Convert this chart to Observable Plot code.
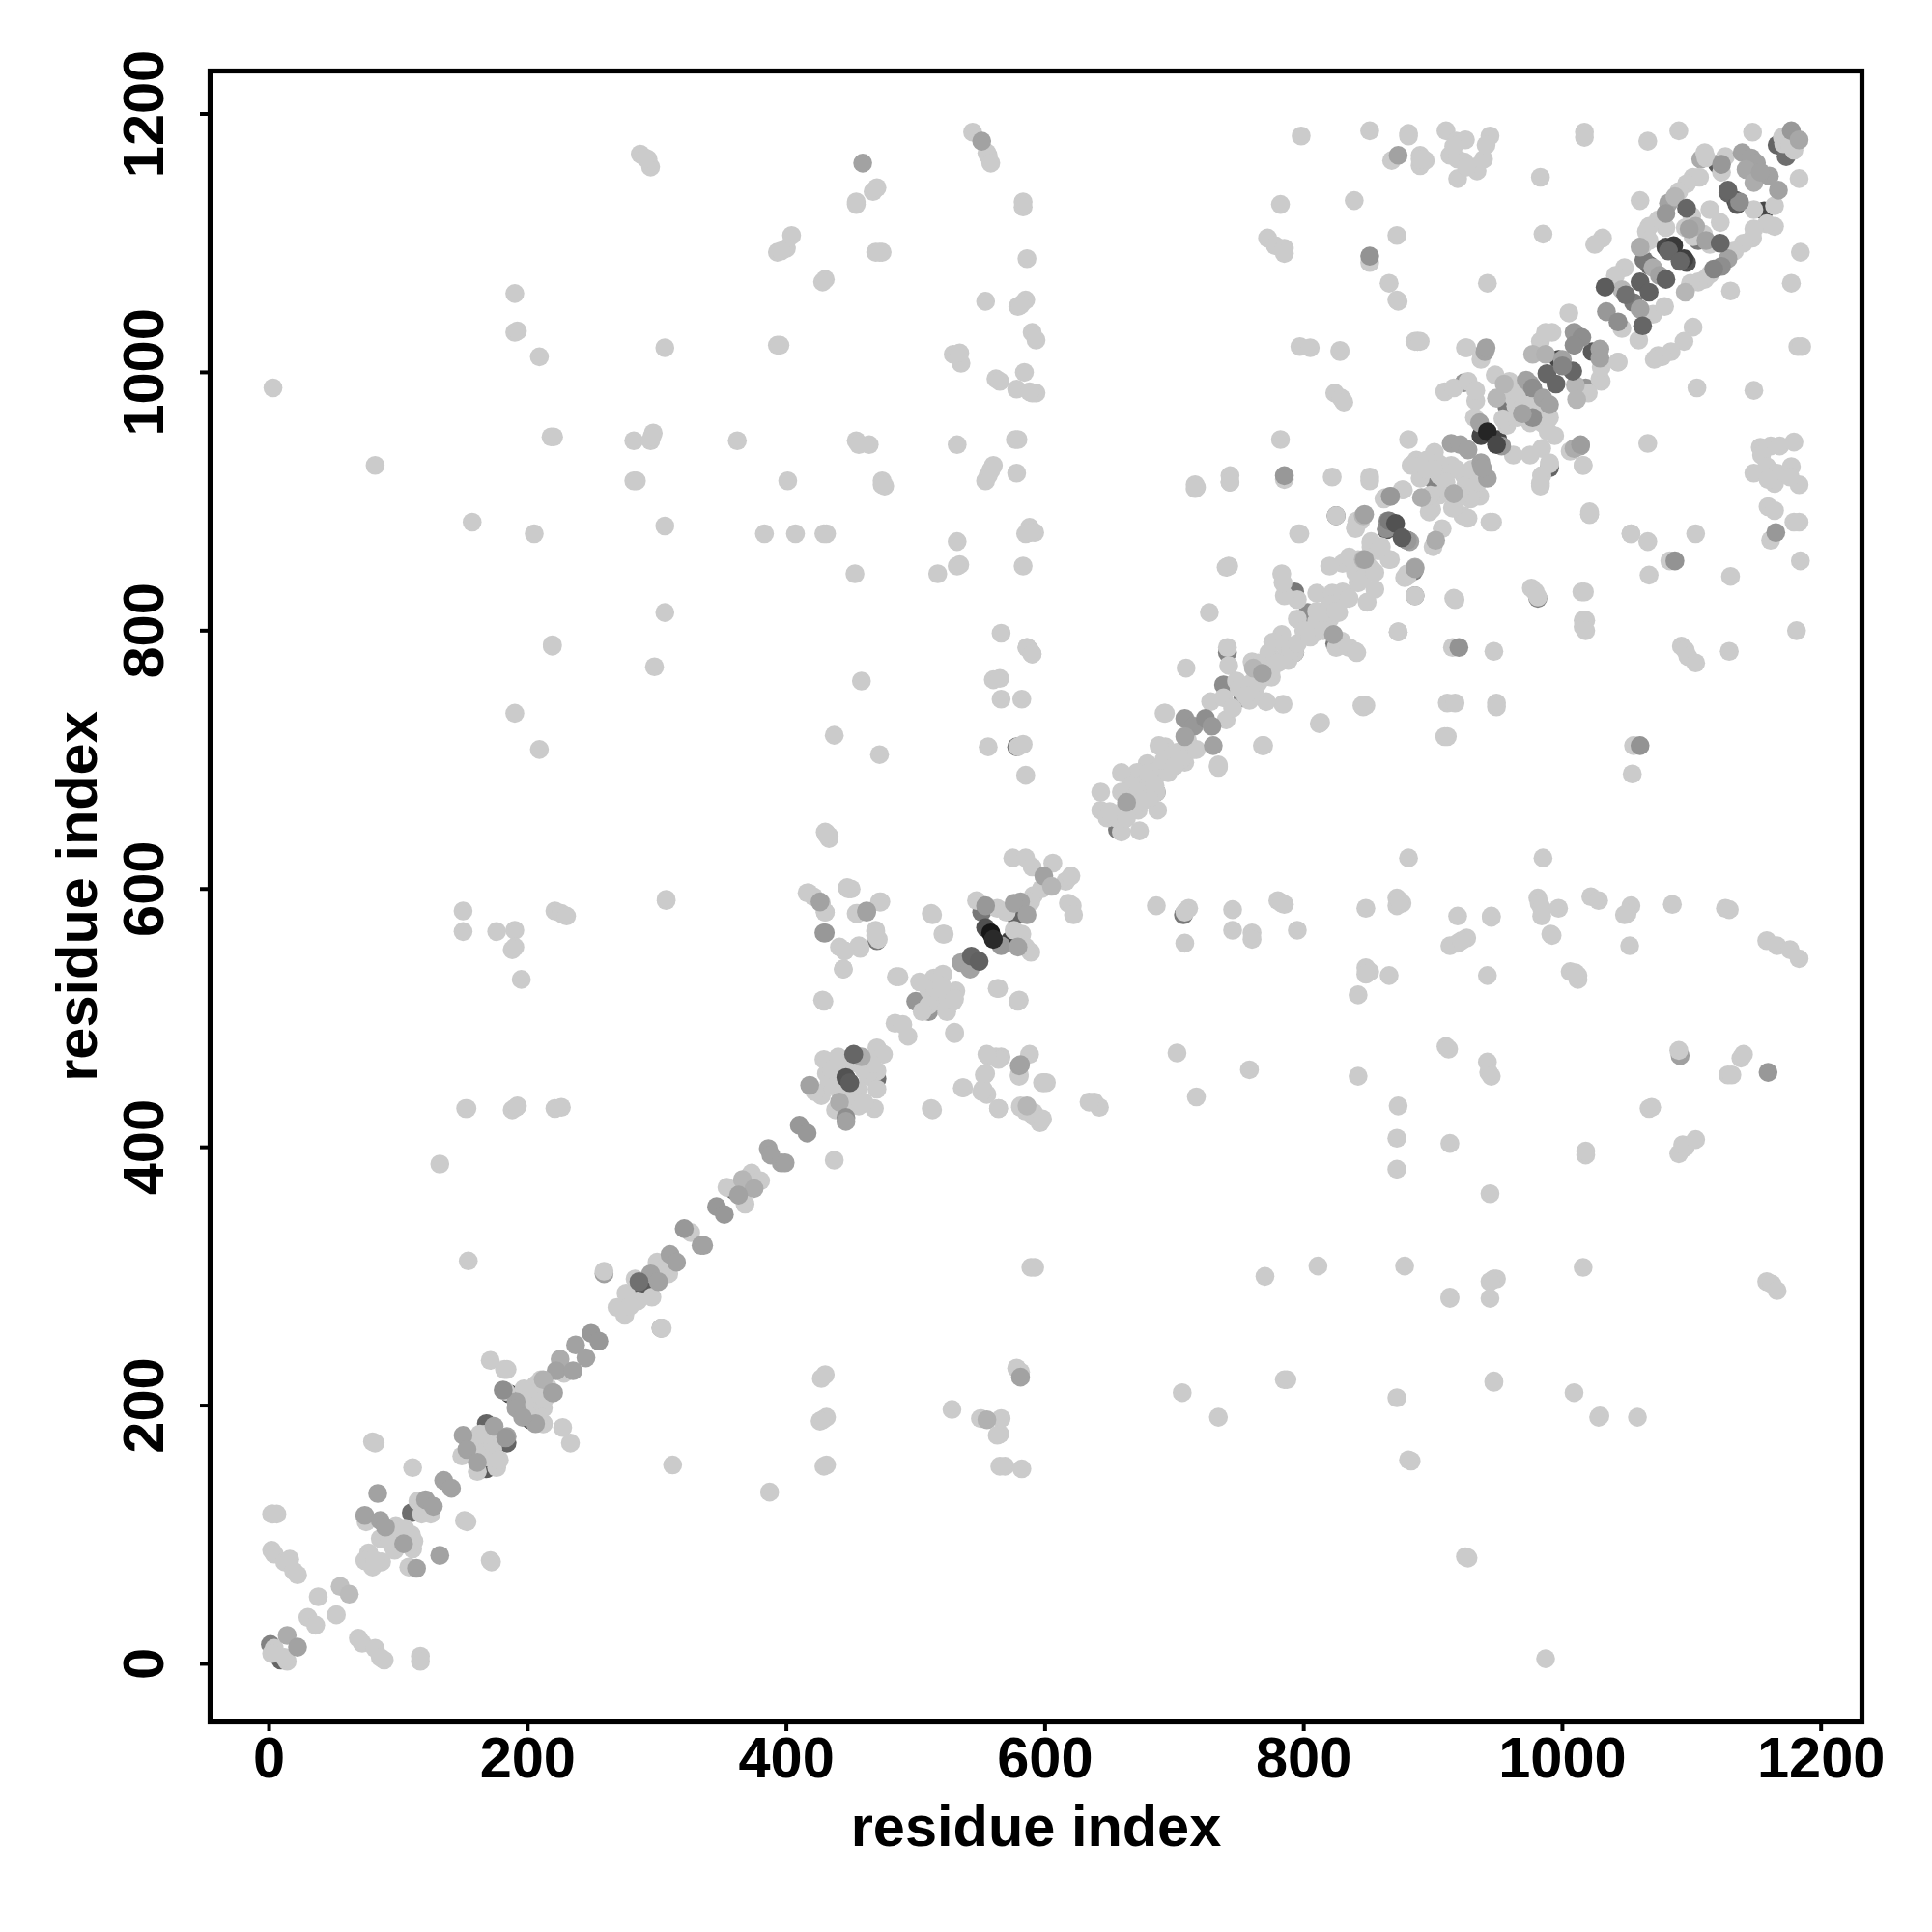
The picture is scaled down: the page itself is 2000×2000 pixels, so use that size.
<!DOCTYPE html>
<html><head><meta charset="utf-8">
<style>html,body{margin:0;padding:0;background:#fff}svg{display:block}</style>
<script src="https://cdn.jsdelivr.net/npm/d3@7"></script>
<script src="https://cdn.jsdelivr.net/npm/@observablehq/plot@0.6"></script>
</head><body><div id="chart"></div>
<script>
// residue-pair contacts: [residue i, residue j, grey level]
const lowerCrescents=[[578,710,120],[707,580,120],[1,15,130],[9,3,100],[184,171,100],[168,186,100],[168,151,90],[110,117,110],[186,209,60],[202,189,60],[290,289,90],
[1134,1133,60],[1156,1125,70],[1128,1139,100],[1067,1083,100],[1105,1102,120],[1166,1176,100],[1173,1167,110],[1120,1161,90],[1107,1165,170],[1135,1130,90],
[957,974,120],[937,951,70],[990,926,100],[997,1010,70],[1023,1016,90],[880,870,90],[924,992,150],[977,987,60],[983,975,40],[979,964,120],[950,948,70],
[886,827,130],[825,889,110],[981,825,130],[738,758,140],[793,830,120],[793,783,110],[753,748,130],[901,916,130],[912,908,130],[772,770,130],[803,814,140],
[470,560,120],[470,453,110],[551,582,120],[554,570,80],[573,560,60],[656,646,120],[686,675,130],[1091,471,160],[510,505,150],[500,513,150],[359,367,110],
[259,302,160],[303,260,160],[741,783,130],[824,790,120],[864,878,90],[1018,988,150],[1063,1087,120],[885,846,130],[577,579,100]];
const lightContacts=[[3,988],[82,928],[157,884],[205,875],[190,1061],[190,1031],[192,1032],[209,1012],[218,950],[220,950],[282,947],[295,947],[297,953],[296,950],[282,916],[284,916],[362,947],[401,916],[454,947],[456,944],[464,944],[532,944],[577,948],[579,948],[560,928],[556,920],[554,916],[558,924],[578,922],[474,916],[476,912],[474,913],[306,1019],[393,1021],[395,1021],[532,1013],[529,1014],[535,1007],[534,1015],[562,995],[565,993],[584,1000],[578,987],[590,984],[593,984],[588,985],[590,1031],[593,1025],[554,1055],[585,1056],[579,1051],[581,1052],[586,1088],[583,1132],[583,1128],[454,1132],[454,1130],[467,1140],[470,1143],[544,1186],[555,1170],[556,1168],[558,1162],[287,1169],[293,1165],[295,1159],[291,1166],[404,1106],[400,1096],[393,1093],[396,1094],[469,1093],[472,1093],[474,1093],[430,1072],[428,1070],[431,875],[429,875],[383,875],[407,875],[306,881],[532,869],[534,851],[532,850],[517,844],[453,844],[583,850],[588,880],[592,876],[585,875],[589,876],[306,814],[219,788],[219,789],[298,772],[458,761],[566,798],[586,787],[590,782],[588,785],[560,762],[565,763],[566,747],[582,747],[190,736],[209,708],[437,719],[472,704],[556,710],[579,710],[583,712],[585,688],[430,644],[433,639],[431,642],
[150,583],[150,567],[176,567],[190,568],[190,555],[188,553],[195,530],[221,583],[226,581],[230,579],[307,592],[307,591],[152,430],[153,430],[188,429],[191,431],[192,432],[221,430],[226,431],[132,387],[154,312],[312,154],[387,133],[927,82],[987,4],[883,157],
[881,624],[985,624],[686,587],[711,585],[708,582],[708,558],[745,584],[745,568],[760,566],[760,561],[780,591],[785,588],[783,589],[795,568],[848,585],[872,593],[876,589],[872,587],[874,591],[919,579],[945,578],[945,579],[926,562],[919,558],[913,556],[922,560],[848,539],[851,536],[848,534],[866,533],[842,518],[942,533],[981,593],[982,589],[984,585],[984,579],[997,585],[991,565],[992,564],[1022,594],[1028,591],[1053,587],[1048,580],[1050,581],[1052,556],[1085,588],[1126,585],[1129,584],[1006,536],[1012,533],[1012,530],[1010,535],[1158,560],[1166,556],[1176,553],[1183,546],[702,473],[717,439],[758,460],[842,455],[910,478],[912,476],[942,466],[943,458],[945,455],[873,432],[872,407],[872,383],[913,403],[1018,394],[1018,397],[944,364],[1090,475],[1138,469],[1140,472],[1128,456],[1131,456],[1069,431],[1067,430],[1090,395],[1093,402],[1095,400],[1103,406],[638,435],[642,431],[634,435],[811,308],[770,300],[878,308],[947,298],[949,298],[944,296],[944,283],[913,283],[913,284],[1016,307],[1158,296],[1162,294],[1166,289],[706,210],[734,191],[785,220],[787,220],[872,206],[947,219],[947,218],[1009,210],[1028,191],[1029,192],[1058,191],[881,158],[925,83],
[430,224],[427,221],[428,189],[431,191],[426,188],[429,153],[431,154],[528,197],[550,190],[566,190],[565,178],[563,177],[565,153],[569,153],[582,151],[578,229],[581,226],[589,307],[592,307],[557,470],[562,470],[566,470],[588,472],[580,456],[553,456],[552,445],[555,441],[537,446],[564,430],[581,431],[585,428],[591,424],[596,419],[599,450],[601,450],[513,429],
[429,513],[417,597],[421,594],[427,589],[430,582],[447,601],[450,600],[433,641],[431,643],[445,552],[457,554],[455,581],[473,590],[444,538],[485,532],[513,580],[522,565],[564,523],[580,514],[530,489],[469,568],[471,561],
[798,1183],[851,1187],[881,1185],[881,1183],[868,1164],[890,1168],[894,1164],[890,1160],[890,1165],[910,1187],[918,1179],[925,1180],[913,1168],[919,1165],[924,1163],[933,1159],[939,1165],[944,1183],[941,1176],[919,1150],[934,1156],[916,1175],[926,1159],[782,1130],[839,1133],[983,1151],[1017,1186],[1017,1182],[1066,1179],[1090,1187],[1147,1186],[1183,1150],[1060,1133],[985,1107],[872,1106],[772,1104],[778,1098],[785,1096],[785,1092],[851,1085],[866,1069],[873,1055],[942,1069],[1184,1093],[1177,1069],[1130,1063],[797,1020],[805,1019],[828,1017],[828,1016],[888,1024],[886,1024],[925,1019],[937,1010],[824,984],[829,980],[831,977],[782,948],[881,948],[785,917],[822,919],[1066,945],[1016,928],[1008,940],[1104,988],[1148,986],[1182,1020],[1185,1020],[1021,890],[1021,892],[796,875],[825,889],[1053,875],[1066,869],[1103,875],[1083,854],[1130,842],[1184,854],[1161,870],[1159,896],[1164,893],[1179,884],[1183,884],[1153,942],[1161,943],[1168,943],[1179,946],[1148,922],[1154,936],[1158,927],[1166,922],[1164,914],[1177,927],[1183,913],[1176,919],[1159,917],[983,912],[984,920],[990,929],[916,825],[886,827],[878,841],[976,833],[979,830],[981,826],[1015,830],[1016,808],[1016,803],[1181,800],[917,824],[873,799],[915,787],[947,784],[911,744],[917,744],[949,744],[949,741],[911,718],[909,718],[848,742],[846,741],[813,729],[769,711],[1054,689],[1055,711],[1092,788],[1095,785],[1097,780],[1103,775],[1129,784],[1017,830],[1018,808],[1018,800],[1067,843],[716,913],[717,911],[743,920],[743,915],[851,919],[851,916],
[1170,1182],[1179,1172],[1171,1177],[1176,1176],[1110,1170],[1111,1166],[1126,1167],[1123,1155],[1148,1126],[1164,1129],[1164,1113],[1158,1115],[1148,1111],[1147,1104],[1140,1100],[1133,1094],[1114,1076],[1110,1072],[1105,1070],[1099,1069],[1101,1151],[1106,1151],[1096,1146],[1090,1140],[1074,1118],[1080,1112],[1067,1113],[1065,1109],[1067,1102],[1122,1116],[1114,1126],[1100,1121],[1109,1107],[1101,1105],[1114,1099],[1048,1081],[1041,1075],[1070,1045],[1079,1051],[1046,1034],[1059,1025],[1101,1035],[1094,1024],[1084,1016],[1074,1013],[1077,1012],[1071,1010],[1043,1008],[1031,1104],[1025,1099],[1062,1098],[1095,1112],
[872,1056],[888,1024],[890,1024],[926,1019],[909,985],[916,988],[927,993],[933,978],[933,986],[948,998],[959,993],[962,981],[964,974],[983,1024],[992,1031],[987,1031],[1005,1046],[1043,1008],[1029,995],[1030,993],[1020,984],[1030,1004],[984,961],[989,954],[994,951],[975,961],[932,965],[962,936],[975,936],[957,959],[954,964],[984,941],[990,930],[984,920],[983,914],[1006,939],[1016,928],[1021,890],[1053,875],[946,884],[944,884],
[887,932],[883,928],[901,938],[895,932],[905,929],[914,928],[924,920],[907,919],[936,904],[924,909],[929,902],[923,889],[927,887],[916,895],[877,909],[863,903],[899,894],[897,892],[907,879],[900,865],[841,885],[840,879],[852,868],[857,862],[867,855],[852,865],[880,844],[853,847],[842,847],[842,855],[915,895],[905,905],[898,905],[918,925],[925,912],[890,918],[895,925],[930,915],
[716,910],[743,915],[740,849],[742,850],[727,814],[709,771],[692,736],[693,736],[717,708],[768,711],[734,696],[734,694],[812,728],[847,742],[845,742],[784,743],[771,745],[758,746],[740,731],[728,745],[738,748],[745,740],[741,787],[742,773],[748,761],[759,759],[762,752],[760,776],[773,783],[775,764],[784,778],[788,777],[793,783],[783,797],[776,791],[803,796],[810,799],[829,792],[825,787],[840,784],[835,787],[841,783],[795,809],[810,807],[820,809],[827,814],[795,824],[785,827],[783,844],[784,837],[810,829],[822,829],[830,824],[830,852],[820,850],[842,837],[855,832],[849,822],[835,857],[852,869],[866,855],[858,862],[844,885],[840,880],[876,909],[862,902],[797,875],[873,799],[880,842],
[586,787],[590,782],[715,708],[693,710],[688,711],[679,697],[671,690],[659,690],[698,700],[708,698],[703,706],[688,690],[677,682],[686,675],[666,680],[643,675],[659,675],[687,661],[672,661],[643,661],[648,655],[659,644],[673,645],[680,685],[713,727],[734,695],
[575,624],[585,624],[590,617],[606,620],[616,606],[620,610],[591,595],[618,589],[621,587],[622,580],[597,600],
[416,597],[430,582],[448,600],[454,581],[472,590],[469,564],[469,567],[441,555],[456,556],[445,552],[444,538],[512,581],[521,565],[428,514],[487,532],[547,591],[563,585],[589,590],[570,582],[576,568],[582,565],[589,551],[585,555],[563,523],[579,513],
[514,531],[521,534],[531,521],[503,528],[529,513],[516,513],[524,505],[510,522],[484,496],[494,486],[490,495],[530,488],
[429,468],[431,457],[433,450],[470,477],[475,472],[470,459],[463,455],[444,463],[427,440],[422,443],[456,432],[468,430],[438,429],[512,430],[536,446],[564,468],[580,455],[554,457],[551,443],[564,430],[581,432],[591,427],[598,422],[598,450],[555,472],
[437,390],[373,380],[380,374],[368,356],[354,369],[326,334],[259,304],[303,260],[304,260],[300,311],[309,302],[305,306],[296,284],[283,298],[276,287],[285,281],[269,276],[275,270],[279,277],[228,225],[210,220],[206,216],[210,200],[197,213],[183,211],[212,186],[227,183],[233,171],[196,193],[184,228],[171,235],[182,228],
[80,172],[82,171],[111,152],[151,111],[153,110],[171,80],[172,79],[75,110],[98,107],[98,99],[106,99],[111,89],[86,97],[97,88],[108,75],[77,86],[74,80],[80,75],[87,79],[82,80],[115,126],[125,116],[118,116],[149,161],[161,175],[173,166],[176,152],[161,149],[198,211],[203,201],[212,198],[212,186],
[3,116],[2,116],[6,116],[2,88],[4,85],[12,79],[16,81],[19,72],[22,69],[4,12],[2,8],[14,2],[12,5],[30,36],[36,30],[38,52],[52,38],[69,20],[72,16],[82,12],[86,5],[89,3],[117,6],[117,2]];
const lightBand=[[158,170],[165,165],[170,160],[160,165],[178,158],[172,172],[163,178],[168,178],[155,172],[200,205],[205,205],[210,210],[205,195],[198,200],[213,205],[208,190],[215,215],[92,100],[100,100],[105,105],[95,92],[110,100],[112,95],
[435,460],[440,445],[450,440],[455,445],[460,460],[465,465],[455,465],[440,470],[460,435],[445,428],[470,445],[520,520],[515,520],[525,515],[510,510],[520,525],[530,515],[505,505],
[665,670],[672,675],[680,690],[685,680],[690,695],[695,690],[700,705],[705,700],[692,700],[700,695],[668,662],[660,660],[655,655],[650,660],[663,655],[680,670],[675,668],[710,715],
[750,755],[755,750],[765,760],[770,765],[765,775],[775,770],[780,775],[785,790],[790,785],[795,790],[800,800],[805,795],[810,815],[815,810],[820,820],[825,815],[815,800],[830,830],[835,825],[840,845],[845,840],[850,850],[855,845],[860,865],[845,855],
[905,920],[910,915],[920,905],[930,925],[935,915],[900,925],[965,985],[970,975],[980,970],[985,975],[965,965],[975,975],[990,965]];
const midContacts=[[551,1179,150],[873,1168,150],[851,1090,135],[940,1016,150],[941,1019,150],[785,920,140],[1014,943,150],[1009,941,160],
[1087,854,135],[1165,876,140],[1060,711,135],[920,787,135],[459,1162,150],[1159,458,140],[581,222,150],[555,189,165],[580,463,150],[429,566,140],[462,583,150],
[1139,1170,150],[1146,1166,150],[1150,1162,150],[1142,1157,155],[1148,1147,160],[1160,1152,150],[1167,1141,150],[1153,1155,150],[1177,1187,140],[1183,1180,155],[1123,1161,140],[1137,1132,130],[1082,1131,150],[1080,1123,140],[1087,1136,170],[1060,1097,160],[1095,1062,170],[1103,1113,160],[1111,1102,150],[1098,1111,150],[1128,1088,150],[1123,1082,130],[1117,1080,120],[1070,1081,160],[1075,1075,150],[1046,1064,170],[1055,1054,110],[1060,1049,150],[1034,1047,140],[1043,1039,130],
[955,991,170],[949,980,170],[977,1014,170],[987,1014,165],[975,991,150],[972,994,150],[1009,1031,140],[1015,1027,130],[1009,1021,130],[1029,1018,150],[1029,1011,150],[1000,1010,150],[977,988,130],[985,980,150],[990,975,150],[977,965,130],[969,968,150],[1010,990,170],[1011,979,170],[936,961,150],[953,943,140],[1014,944,145],
[914,945,150],[921,944,150],[927,940,150],[937,930,150],[942,918,150],[938,926,150],[916,906,160],[867,904,160],[891,903,160],[902,870,160],[846,889,170],[865,885,130],[864,879,130],[882,869,150],[886,849,160],[846,855,170],
[708,732,140],[715,726,140],[724,732,130],[729,726,140],[708,718,150],[730,711,150],[761,771,170],[768,767,150],[823,797,150],[847,855,150],[847,890,150],[866,885,110],[880,870,140],[886,848,150],[867,904,140],
[599,610,150],[605,602,170],[581,590,150],[663,667,150],
[426,590,150],[430,566,140],[462,582,150],[535,543,150],[542,538,150],[554,587,140],[576,589,150],[586,580,150],[566,556,140],[579,555,150],[418,448,150],[458,470,160],[441,435,160],[446,423,130],[581,464,150],[586,432,170],
[446,420,150],[410,417,140],[416,411,140],[386,399,150],[388,394,150],[396,388,150],[399,388,150],[366,375,170],[375,368,160],[363,363,150],[346,354,140],[352,348,140],[321,337,140],[334,324,150],[336,324,150],[310,317,150],[315,311,150],[295,302,150],[301,296,150],[249,256,140],[255,250,140],[237,247,150],[225,236,160],[245,237,150],[222,227,150],[235,227,150],[220,210,150],[191,203,150],[206,186,150],[184,176,150],
[135,142,150],[141,136,150],[84,132,150],[132,84,150],[74,115,150],[86,111,150],[90,106,150],[104,93,150],[114,74,150],[121,127,150],[127,122,150],[150,177,150],[153,166,150],[174,184,150],[183,175,140],[161,156,150],[212,220,165],[219,210,150],[191,198,150],[196,191,150],[181,212,130],
[14,22,160],[22,13,150],[55,60,180],[62,54,175]];
const darkContacts=[[1128,1141,90],[1122,1100,90],[1096,1127,90],[1080,1097,60],[1086,1098,45],[1082,1094,90],[1096,1085,70],[1094,1088,50],[1091,1086,90],[1080,1072,85],[1060,1070,85],[1067,1062,85],[1049,1060,100],[1033,1066,80],[1062,1036,90],
[988,999,90],[995,991,90],[1008,1001,90],[1000,1005,120],[942,954,25],[949,944,60],[871,883,70],[876,872,80],
[543,548,90],[549,544,85],[558,566,10],[560,561,30],[446,454,70],[449,450,80],[452,472,90],[286,296,100]];
const xTicks=[0,200,400,600,800,1000,1200];
const yTicks=[0,200,400,600,800,1000,1200];
const axisTitle="residue index";
const lightGrey=203;

const rows=[...lowerCrescents.map(([i,j,g])=>({i,j,g})),
  ...lightContacts.map(([i,j])=>({i,j,g:lightGrey})),...lightBand.map(([i,j])=>({i,j,g:lightGrey})),
  ...midContacts.map(([i,j,g])=>({i,j,g:g+12})),...darkContacts.map(([i,j,g])=>({i,j,g:g+12}))];
const font="'Liberation Sans', Arial, sans-serif";
const chart=Plot.plot({
  width:2000,height:2000,marginLeft:217,marginRight:73,marginTop:73,marginBottom:218,
  style:{background:"#fff",fontFamily:font,fontWeight:"bold"},
  x:{domain:[-45.6,1231.6]},y:{domain:[-44.9,1233.3]},
  marks:[
    Plot.dot(rows,{x:"i",y:"j",r:9.8,fill:d=>`rgb(${d.g},${d.g},${d.g})`,stroke:"none"}),
    Plot.frame({stroke:"#000",strokeWidth:5.2}),
    Plot.axisX({ticks:xTicks,tickSize:10,tickPadding:5,fontSize:59.5,strokeWidth:4,stroke:"#000",fill:"#000",
      label:axisTitle,labelAnchor:"center",labelArrow:"none",labelOffset:128,fontWeight:"bold",tickFormat:d=>String(d)}),
    Plot.axisY({ticks:yTicks,tickSize:10,tickPadding:39,fontSize:59.5,strokeWidth:4,stroke:"#000",fill:"#000",tickRotate:-90,
      label:axisTitle,labelAnchor:"center",labelArrow:"none",labelOffset:160,fontWeight:"bold",tickFormat:d=>String(d)})
  ]
});
document.getElementById("chart").appendChild(chart);
</script></body></html>
